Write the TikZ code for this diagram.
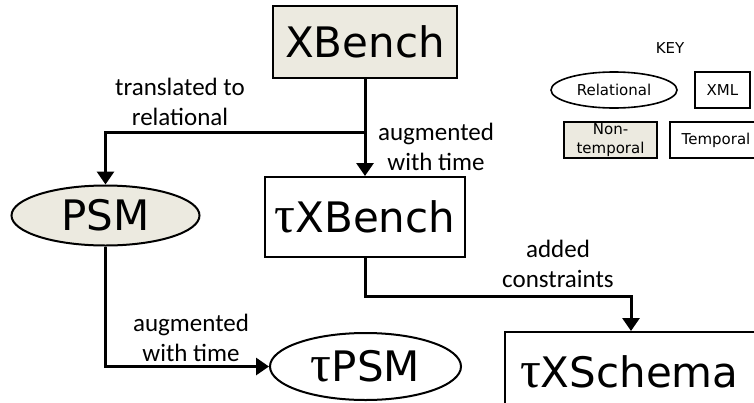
\documentclass[tikz,border=0pt]{standalone}
\usepackage{fontspec}
\setmainfont{DejaVu Sans}
\newfontfamily\labelfont{Carlito}
\newfontfamily\taufont{Liberation Serif}
\usetikzlibrary{arrows.meta,shapes.geometric}

\definecolor{nontemp}{RGB}{236,234,224}
\newcommand{\tauchar}{{\taufont\fontsize{52}{52}\selectfont τ}}

\begin{document}
\begin{tikzpicture} [x=1pt, y=-1pt,
    schema/.style={draw, line width=2pt, inner sep=0pt, font=\fontsize{42}{46}\selectfont},
    xmlbox/.style={schema, rectangle},
    relbox/.style={schema, ellipse},
    keybox/.style={draw, line width=1.6pt, inner sep=0pt, align=center, font=\fontsize{15}{18}\selectfont},
    flow/.style={line width=3pt, -{Triangle[length=13pt,width=17pt]}},
    step label/.style={align=center, font=\labelfont\fontsize{25}{30}\selectfont}
  ]

\useasboundingbox (0,0) rectangle (754,402);

%schemas
\node[xmlbox, fill=nontemp, minimum width=184pt, minimum height=72pt] (XBench) at (365,42) {XBench};
\node[xmlbox, minimum width=200pt, minimum height=80pt] (tXBench) at (365,217) {\tauchar XBench};
\node[relbox, fill=nontemp, minimum width=188pt, minimum height=60pt] (PSM) at (105.5,215.5) {PSM};
\node[relbox, minimum width=191pt, minimum height=67pt] (tPSM) at (365.5,366.5) {\tauchar PSM};
\node[xmlbox, minimum width=252pt, minimum height=80pt, text width=222pt, align=left] (tXSchema) at (631,372) {\tauchar XSchema};

% key
\node[font=\fontsize{15}{18}\selectfont] (keytitle) at (670,48) {KEY};
\node[keybox, ellipse, minimum width=126pt, minimum height=36pt] (keyrel) at (614,90) {Relational};
\node[keybox, minimum width=55pt, minimum height=36pt] (keyxml) at (722.5,90) {XML};
\node[keybox, fill=nontemp, minimum width=93pt, minimum height=36pt, font=\fontsize{15}{19}\selectfont] (keynontemp) at (610.5,140) {Non-\\temporal};
\node[keybox, minimum width=92pt, minimum height=36pt] (keytemp) at (716,140) {Temporal};

% arrows
\coordinate (split) at (365,132);
\draw[flow] (XBench.south) -- (tXBench.north);
\draw[flow] (split) -| (PSM.north);
\draw[flow] (PSM.south) |- (tPSM.west);
\draw[flow] (tXBench.south) -- ++(0,38) -| (tXSchema.north);

% descriptions
\node[step label] (lbltrans) at (180,102) {translated to\\relational};
\node[step label] (lblaug) at (436,147) {augmented\\with time};
\node[step label] (lblcons) at (558,264) {added\\constraints};
\node[step label] (lblaugpsm) at (191,338) {augmented\\with time};

\end{tikzpicture}
\end{document}
